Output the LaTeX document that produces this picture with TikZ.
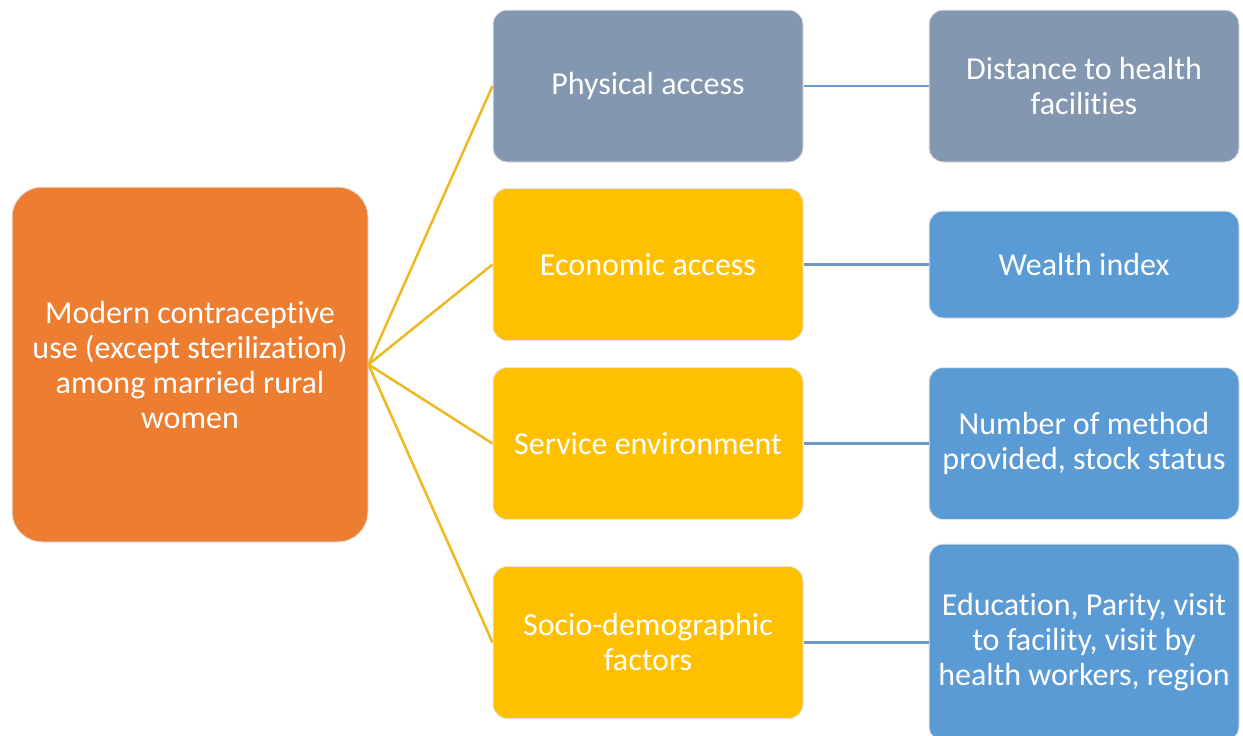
\documentclass[tikz,border=0pt]{standalone}
\usepackage{fontspec}
\setmainfont{Carlito}[Ligatures=NoCommon]
\usetikzlibrary{positioning}

\definecolor{boxorange}{HTML}{ED7D31}
\definecolor{boxgold}{HTML}{FFC000}
\definecolor{boxgray}{HTML}{8497B0}
\definecolor{boxblue}{HTML}{5B9BD5}
\definecolor{linkgold}{HTML}{EDB820}
\definecolor{linkblue}{HTML}{6E98C8}

\begin{document}
\begin{tikzpicture}[x=1pt, y=-1pt,
  main node/.style={draw=gray!20, line width=1pt, rounded corners=14pt, text=white,
    align=center, inner sep=0pt, font=\fontsize{32}{35}\selectfont},
  mid node/.style={main node, minimum width=310pt, minimum height=152pt},
  goal node/.style={main node, fill=boxorange, minimum width=356pt, minimum height=355pt, rounded corners=30pt},
  gold link/.style={draw=linkgold, line width=2.5pt},
  blue link/.style={draw=linkblue, line width=2.5pt}]
\useasboundingbox (0,0) rectangle (1243,736);

\node[goal node]                        (use)   at (190,364.5) {Modern contraceptive\\use (except sterilization)\\among married rural\\women};
\node[mid node, fill=boxgray]           (phys)  at (648,86)    {Physical access};
\node[mid node, fill=boxgold]           (econ)  at (648,264.5) {Economic access};
\node[mid node, fill=boxgold]           (serv)  at (648,443.5) {Service environment};
\node[mid node, fill=boxgold]           (socio) at (648,642.5) {Socio-demographic\\factors};
\node[mid node, fill=boxgray, right=125pt of phys]  (dist)   {Distance to health\\facilities};
\node[mid node, fill=boxblue, right=125pt of econ, minimum height=107pt] (wealth) {Wealth index};
\node[mid node, fill=boxblue, right=125pt of serv]  (method) {Number of method\\provided, stock status};
\node[mid node, fill=boxblue, right=125pt of socio, minimum height=197pt] (edu) {Education, Parity, visit\\to facility, visit by\\health workers, region};

\path[gold link]
(use.east) edge (phys.west)
           edge (econ.west)
           edge (serv.west)
           edge (socio.west)
;
\path[blue link]
(phys.east)  edge (dist.west)
(econ.east)  edge (wealth.west)
(serv.east)  edge (method.west)
(socio.east) edge (edu.west)
;
\end{tikzpicture}
\end{document}
